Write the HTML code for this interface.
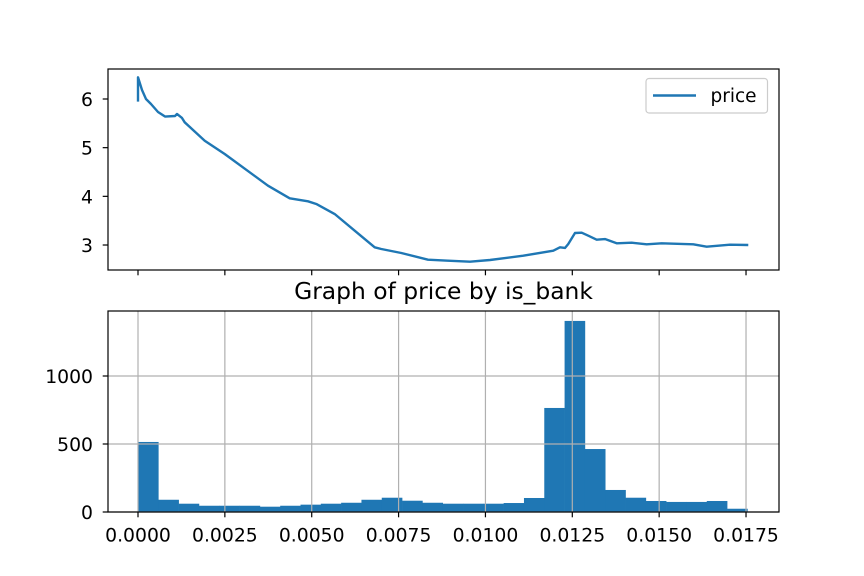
<!DOCTYPE html>
<html><head><meta charset="utf-8"><style>
body{margin:0;background:#fff}
svg{display:block;font-family:"DejaVu Sans","Liberation Sans",sans-serif}
</style></head><body>
<svg id="c" width="864" height="576" viewBox="0 0 864 576"></svg>
<script>
const lineX=[0,0,0.000115,0.00023,0.000374,0.000576,0.000777,0.001065,0.001122,0.001266,0.001344,0.00192,0.002495,0.003741,0.004366,0.004893,0.005131,0.005661,0.006237,0.006812,0.007002,0.007578,0.008346,0.008921,0.009555,0.010131,0.011089,0.011953,0.012145,0.012289,0.012384,0.012577,0.01277,0.01296,0.013201,0.01344,0.013777,0.014209,0.01464,0.015072,0.015982,0.016367,0.017038,0.017565];
const lineY=[5.945,6.446,6.185,6.0,5.897,5.733,5.64,5.651,5.692,5.61,5.521,5.143,4.87,4.219,3.96,3.898,3.843,3.637,3.294,2.953,2.918,2.836,2.698,2.678,2.657,2.692,2.78,2.883,2.953,2.939,3.021,3.247,3.253,3.191,3.109,3.123,3.035,3.047,3.015,3.035,3.015,2.965,3.006,3.0];
const histCounts=[515,90,61,46,46,46,39,46,54,61,68,90,105,83,68,61,61,61,66,103,765,1405,463,162,105,81,74,74,81,24];
const binStart=0, binEnd=0.01754;
const xTicks=[0,0.0025,0.005,0.0075,0.01,0.0125,0.015,0.0175];
const xTickLabels=["0.0000","0.0025","0.0050","0.0075","0.0100","0.0125","0.0150","0.0175"];
const yTopTicks=[3,4,5,6];
const yBotTicks=[0,500,1000];

const svg=document.getElementById('c');
const NS='http://www.w3.org/2000/svg';
function mk(tag,attrs,parent){const e=document.createElementNS(NS,tag);for(const k in attrs)e.setAttribute(k,attrs[k]);(parent||svg).appendChild(e);return e;}
const L=108,R=779;
const FS='18.8';
const sx=v=>138+v/0.0025*86.86;
const syTop=v=>99+(6-v)*48.67;
const syBot=v=>512-v*0.136;

// top axes
const gTop=mk('g',{});


mk('rect',{x:L,y:69,width:R-L,height:201,fill:'#fff'},gTop);
let d='';
lineX.forEach((x,i)=>{d+=(i?'L':'M')+sx(x).toFixed(2)+','+syTop(lineY[i]).toFixed(2);});
const pl=mk('path',{d:d,fill:'none',stroke:'#1f77b4','stroke-width':2.4,'stroke-linejoin':'round'},gTop);


yTopTicks.forEach(t=>{const y=syTop(t);
 mk('line',{x1:L-5.3,x2:L,y1:y,y2:y,stroke:'#000','stroke-width':1.2},gTop);
 const tx=mk('text',{x:93,y:y+7,'text-anchor':'end','font-size':FS},gTop);tx.textContent=t;
 
 });
xTicks.forEach(t=>{const x=sx(t);mk('line',{x1:x,x2:x,y1:270,y2:275.3,stroke:'#000','stroke-width':1.2},gTop);});
mk('rect',{x:L,y:69,width:R-L,height:201,fill:'none',stroke:'#000','stroke-width':1.2},gTop);
// legend
const lg=mk('g',{},gTop);


mk('rect',{x:646,y:78.5,width:121.5,height:34.5,rx:3,fill:'#fff',stroke:'#ccc','stroke-width':1.2},lg);
mk('line',{x1:653,x2:696,y1:95.5,y2:95.5,stroke:'#1f77b4','stroke-width':2.4},lg);
const lt=mk('text',{x:710.5,y:102,'font-size':'18.5'},lg);lt.textContent='price';

// bottom axes
const gB=mk('g',{});


const bw=(binEnd-binStart)/histCounts.length;
histCounts.forEach((c,i)=>{const x0=sx(binStart+i*bw),x1=sx(binStart+(i+1)*bw);
 const r=mk('rect',{x:x0,y:syBot(c),width:x1-x0+0.3,height:512-syBot(c),fill:'#1f77b4'},gB);
 
 });
xTicks.forEach(t=>{const x=sx(t);mk('line',{x1:x,x2:x,y1:311,y2:512,stroke:'#b0b0b0','stroke-width':1.2},gB);});
yBotTicks.forEach(t=>{const y=syBot(t);mk('line',{x1:L,x2:R,y1:y,y2:y,stroke:'#b0b0b0','stroke-width':1.2},gB);});
xTicks.forEach((t,i)=>{const x=sx(t);mk('line',{x1:x,x2:x,y1:512,y2:517.3,stroke:'#000','stroke-width':1.2},gB);
 const tx=mk('text',{x:x,y:541.5,'text-anchor':'middle','font-size':FS},gB);tx.textContent=xTickLabels[i];
 
 });
yBotTicks.forEach(t=>{const y=syBot(t);mk('line',{x1:L-5.3,x2:L,y1:y,y2:y,stroke:'#000','stroke-width':1.2},gB);
 const tx=mk('text',{x:93,y:y+7,'text-anchor':'end','font-size':FS},gB);tx.textContent=t;
 
 });
mk('rect',{x:L,y:311,width:R-L,height:201,fill:'none',stroke:'#000','stroke-width':1.2},gB);
const ti=mk('text',{x:443.5,y:299,'text-anchor':'middle','font-size':'23.4'},gB);ti.textContent='Graph of price by is_bank';


</script>
</body></html>
